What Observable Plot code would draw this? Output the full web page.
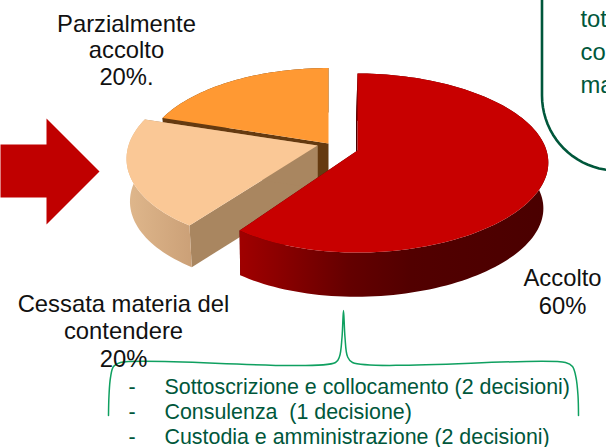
<!DOCTYPE html>
<html><head><meta charset="utf-8">
<style>html,body{margin:0;padding:0;background:#fff;overflow:hidden}svg{display:block}</style>
<script src="https://cdn.jsdelivr.net/npm/d3@7"></script>
<script src="https://cdn.jsdelivr.net/npm/@observablehq/plot@0.6"></script>
</head><body>
<script>
// Data
const outcomes = ["Accolto", "Cessata materia del contendere", "Parzialmente accolto"];
const shares = [60, 20, 20];
const pieLabels = [
  ["Parzialmente", "accolto", "20%."],
  ["Cessata materia del", "contendere", "20%"],
  ["Accolto", "60%"]
];
const detailLines = [
  "Sottoscrizione e collocamento (2 decisioni)",
  "Consulenza  (1 decisione)",
  "Custodia e amministrazione (2 decisioni)"
];
const noteFragments = ["tot", "co", "ma"];

// Presentation
const topColors = ["#c80000", "#fac896", "#ff9933"];
const sideFills = ["url(#redWall)", "url(#peachWall)", "#653a10"];
const cutColors = ["#4a0000", "#a98660", "#653a10"];
const explode = [
  {x0: 357, y0: 150, d: 182, g: 7, ry: 87.8, h: 46, dx: 1.5},
  {x0: 317, y0: 145, d: 199, g: 10, ry: 87.8, h: 43, dx: 0},
  {x0: 328, y0: 143, d: 182, g: 0, ry: 86, h: 43, dx: 0}
];
const persp = 0.14, green = "#00573b", bright = "#0fa060";
const ink = "#111";

const total = d3.sum(shares);
let acc = 0;
const slices = shares.map((v, i) => {
  const a0 = acc / total * 2 * Math.PI;
  acc += v;
  return {name: outcomes[i], a0, a1: acc / total * 2 * Math.PI, ...explode[i], top: topColors[i], side: sideFills[i], cut: cutColors[i]};
});
function project(s, a, level) {
  const u = Math.sin(a), v = Math.cos(a), den = 1 + persp * v, k = 1 - 0.018 * level;
  return [s.x0 - level * s.dx + k * (s.d * u + s.g * u * u) / den,
          s.y0 + level * s.h - k * s.ry * v / den];
}
const apex = (s, level) => [s.x0 - level * s.dx, s.y0 + level * s.h];
function arc(s, level) {
  const n = Math.ceil((s.a1 - s.a0) / 0.03), pts = [];
  for (let i = 0; i <= n; i++) pts.push(project(s, s.a0 + (s.a1 - s.a0) * i / n, level));
  return pts;
}
const poly = (pts, fill) => Plot.line(pts, {x: d => d[0], y: d => d[1], fill, stroke: "none"});
const stroke = (pts, color, width, curve) => Plot.line(pts, {x: d => d[0], y: d => d[1], stroke: color, strokeWidth: width, curve: curve || "linear"});

const pieMarks = [2, 1, 0].flatMap(i => {
  const s = slices[i];
  return [
    poly([apex(s, 0), project(s, s.a0, 0), project(s, s.a0, 1), apex(s, 1)], s.cut),
    poly([apex(s, 0), project(s, s.a1, 0), project(s, s.a1, 1), apex(s, 1)], s.cut),
    poly([...arc(s, 0), ...arc(s, 1).reverse()], s.side),
    poly([apex(s, 0), ...arc(s, 0)], s.top)
  ];
});

const callout = [[541.5, -4], [541.5, 95]];
for (let t = 0.05; t <= 1.5; t += 0.05) callout.push([616 - 74.5 * Math.cos(t * Math.PI / 2), 95 + 75 * Math.sin(t * Math.PI / 2)]);

const bracket = [[108, 415], [108.5, 395], [110, 377], [113, 366], [120, 362], [335, 362], [339, 356], [341.5, 337], [343, 310], [344.5, 337], [347, 356], [352, 362], [565, 362], [572, 366], [575.5, 377], [577.5, 395], [578, 415]];

const textMark = (rows, opts) => Plot.text(rows, {text: d => d.t, x: d => d.x, y: d => d.y, frameAnchor: "middle", lineAnchor: "bottom", fontFamily: "Liberation Sans", ...opts});
const labelRows = [
  ...pieLabels[0].map((t, i) => ({t, x: 126, y: 31 + i * 26.5})),
  ...pieLabels[1].map((t, i) => ({t, x: 123, y: 311 + i * 27.5})),
  ...pieLabels[2].map((t, i) => ({t, x: 562, y: 285 + i * 28}))
];

const chart = Plot.plot({
  width: 606, height: 447, margin: 0,
  x: {domain: [0, 606], range: [0, 606], axis: null},
  y: {domain: [0, 447], range: [0, 447], axis: null},
  marks: [
    poly([[0, 144], [46, 144], [46, 118], [99, 171], [46, 224], [46, 197], [0, 197]], "#c00000"),
    ...pieMarks,
    stroke(callout, green, 2.6),
    stroke(bracket, bright, 1.5, "catmull-rom"),
    textMark(labelRows, {textAnchor: "middle", fontSize: 23.8, fill: ink}),
    textMark(noteFragments.map((t, i) => ({t, x: 580, y: 26 + i * 33})), {textAnchor: "start", fontSize: 23.8, fill: green}),
    textMark(detailLines.map((t, i) => ({t, x: 164, y: 393.5 + i * 25})), {textAnchor: "start", fontSize: 21.4, fill: green}),
    textMark(detailLines.map((t, i) => ({t: "-", x: 128, y: 393.5 + i * 25})), {textAnchor: "start", fontSize: 21.4, fill: green})
  ]
});
chart.style.background = "#fff";
const defs = d3.select(chart).insert("defs", ":first-child");
function grad(id, x1, x2, stops) {
  const g = defs.append("linearGradient").attr("id", id).attr("gradientUnits", "userSpaceOnUse")
    .attr("x1", x1).attr("x2", x2).attr("y1", 0).attr("y2", 0);
  stops.forEach(([o, c]) => g.append("stop").attr("offset", o).attr("stop-color", c));
}
grad("redWall", 239, 551, [[0, "#a00000"], [0.12, "#8c0000"], [0.35, "#640000"], [0.55, "#520000"], [1, "#4a0000"]]);
grad("peachWall", 127, 192, [[0, "#dfb78c"], [1, "#cba077"]]);
document.body.appendChild(chart);
</script>
</body></html>
